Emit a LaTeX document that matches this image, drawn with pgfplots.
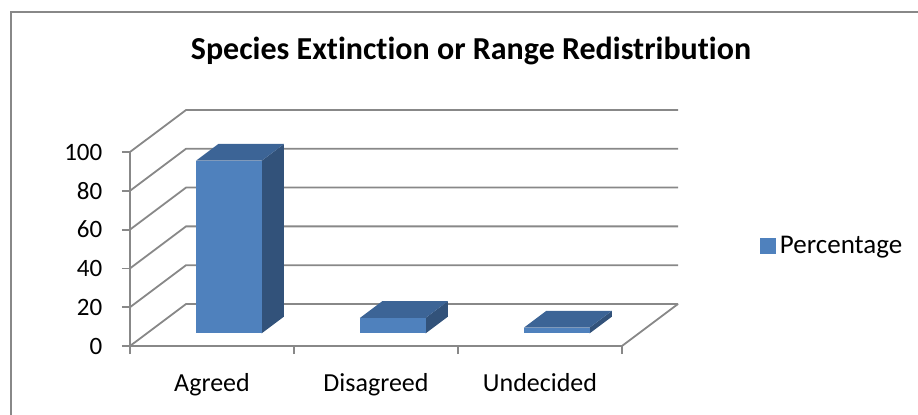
\documentclass[border=0pt]{standalone}
\usepackage{fontspec}
\setmainfont{Carlito}[Ligatures=CommonOff]
\usepackage{pgfplots}
\pgfplotsset{compat=1.18}

\definecolor{frontblue}{HTML}{4F81BD}
\definecolor{topblue}{HTML}{3C6496}
\definecolor{sideblue}{HTML}{32527A}
\definecolor{gridgray}{HTML}{888888}

% oblique depth offset of the 3D walls, in axis units
\def\DX{0.3415}
\def\DY{21.65}

% one 3D bar: left x, right x, value; depth from 0.3 to 0.7
\newcommand{\cuboid}[3]{%
  \pgfmathsetmacro\xa{#1+\DX*0.3}%
  \pgfmathsetmacro\xb{#2+\DX*0.3}%
  \pgfmathsetmacro\xc{#1+\DX*0.7}%
  \pgfmathsetmacro\xd{#2+\DX*0.7}%
  \pgfmathsetmacro\ya{\DY*0.3}%
  \pgfmathsetmacro\yb{#3+\DY*0.3}%
  \pgfmathsetmacro\yc{\DY*0.7}%
  \pgfmathsetmacro\yd{#3+\DY*0.7}%
  \edef\temp{%
    \noexpand\addplot[fill=sideblue,draw=none,forget plot] coordinates {(\xb,\ya) (\xd,\yc) (\xd,\yd) (\xb,\yb)};
    \noexpand\addplot[fill=topblue,draw=none,forget plot] coordinates {(\xa,\yb) (\xb,\yb) (\xd,\yd) (\xc,\yd)};
    \noexpand\addplot[fill=frontblue,draw=none,forget plot] coordinates {(\xa,\ya) (\xb,\ya) (\xb,\yb) (\xa,\yb)};
  }\temp
}

\begin{document}
\begin{tikzpicture}[x=0.5pt,y=0.5pt]
\useasboundingbox (0,0) rectangle (918,414);
\draw[gridgray,line width=1pt] (11,-20) -- (11,402) -- (940,402);
\node[font=\fontsize{16}{19}\selectfont\bfseries,anchor=base] at (471,355)
  {Species Extinction or Range Redistribution};

\begin{axis}[
  at={(65pt,34pt)}, anchor=south west,
  width=246pt, height=97pt, scale only axis,
  xmin=0, xmax=3, ymin=0, ymax=100,
  clip=false,
  axis lines*=left,
  axis line style={gridgray,line width=0.9pt},
  tick align=outside,
  tick style={gridgray,line width=0.9pt},
  major tick length=4pt,
  minor tick length=4pt,
  xtick={0.5,1.5,2.5},
  xticklabels={Agreed,Disagreed,Undecided},
  minor xtick={0,1,2,3},
  major x tick style={draw=none},
  ytick={0,20,40,60,80,100},
  /pgf/number format/assume math mode=true,
  xticklabel style={font=\fontsize{13}{15}\selectfont, yshift=-6pt},
  yticklabel style={font=\fontsize{12.5}{15}\selectfont, xshift=-6.3pt},
  legend style={at={(1.2805,0.515)}, anchor=west, draw=none, fill=none,
    inner sep=0pt, font=\fontsize{13.5}{16}\selectfont},
]
% walls: left wall diagonals and back wall gridlines
\addplot[gridgray,line width=0.9pt,forget plot] coordinates {(0,0) (0.3415,21.65) (3.3415,21.65)};
\addplot[gridgray,line width=0.9pt,forget plot] coordinates {(0,20) (0.3415,41.65) (3.3415,41.65)};
\addplot[gridgray,line width=0.9pt,forget plot] coordinates {(0,40) (0.3415,61.65) (3.3415,61.65)};
\addplot[gridgray,line width=0.9pt,forget plot] coordinates {(0,60) (0.3415,81.65) (3.3415,81.65)};
\addplot[gridgray,line width=0.9pt,forget plot] coordinates {(0,80) (0.3415,101.65) (3.3415,101.65)};
\addplot[gridgray,line width=0.9pt,forget plot] coordinates {(0,100) (0.3415,121.65) (3.3415,121.65)};
% floor right edge
\addplot[gridgray,line width=0.9pt,forget plot] coordinates {(3,0) (3.3415,21.65)};

% bars: Agreed 89, Disagreed 8, Undecided 3
\cuboid{0.3}{0.7}{89}
\cuboid{1.3}{1.7}{8}
\cuboid{2.3}{2.7}{3}

\addlegendimage{legend image code/.code={\fill[frontblue] (0pt,-3.6pt) rectangle (7.4pt,3.6pt);}}
\addlegendentry{Percentage}
\end{axis}
\end{tikzpicture}
\end{document}
